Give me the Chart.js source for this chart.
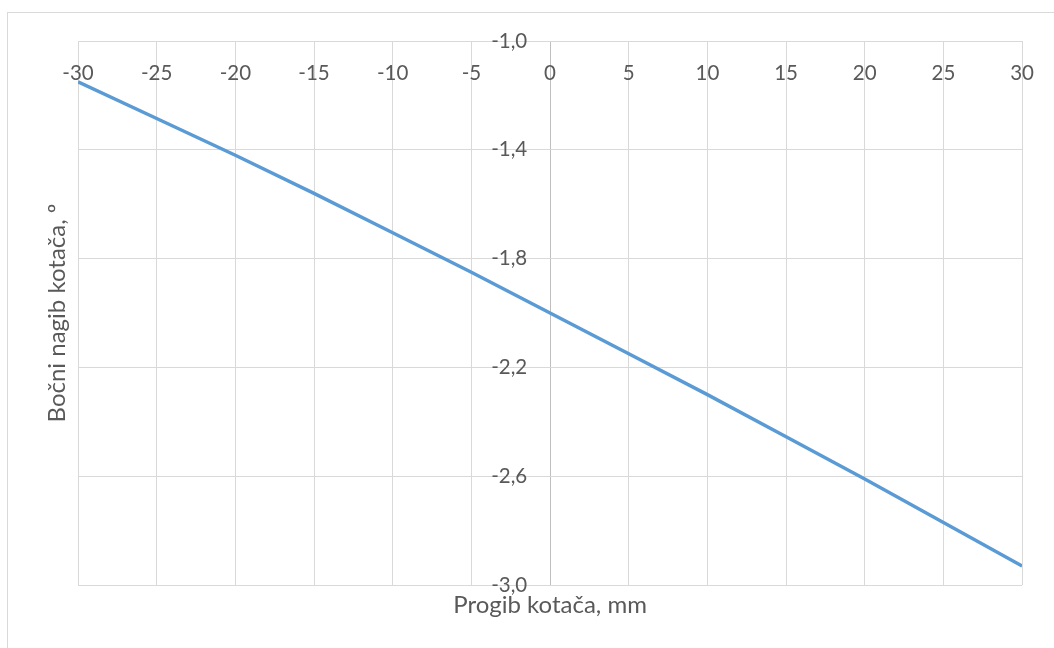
<!DOCTYPE html>
<html>
<head>
<meta charset="utf-8">
<script src="https://cdn.jsdelivr.net/npm/chart.js@4.4.1/dist/chart.umd.min.js"></script>
<style>
    html, body { margin: 0; padding: 0; background: #ffffff; }
</style>
</head>
<body>
<canvas id="camberChart" width="1054" height="648"></canvas>
<script>
// wheel travel (mm) vs camber angle (deg)
const progib = [-30, -25, -20, -15, -10, -5, 0, 5, 10, 15, 20, 25, 30];
const nagib = [-1.15, -1.285, -1.42, -1.56, -1.705, -1.85, -2.00, -2.15, -2.30, -2.455, -2.61, -2.77, -2.93];

const xTitle = 'Progib kotača, mm';
const yTitle = 'Bočni nagib kotača, º';

const textColor = '#595959';
const gridColor = '#d9d9d9';
const axisColor = '#bfbfbf';
const fontFamily = 'Lato, "Open Sans", sans-serif';
const tickFont = { family: fontFamily, size: 20.5 };
const titleFont = { family: fontFamily, size: 24 };

// y labels sit left of the x=0 line with a gap; chart.js ignores ticks.padding
// for value-positioned y axes, so the axis is anchored a little left of 0
const yAxisAt = -1.45;

// light frame round the whole chart, like the Excel chart border
const framePlugin = {
    id: 'frame',
    beforeDraw(chart) {
        const ctx = chart.ctx;
        ctx.save();
        ctx.strokeStyle = gridColor;
        ctx.lineWidth = 1;
        ctx.strokeRect(7.5, 12.5, 1200, 800);
        ctx.restore();
    }
};

const ctx = document.getElementById('camberChart').getContext('2d');

new Chart(ctx, {
    type: 'line',
    data: {
        datasets: [{
            label: yTitle,
            data: progib.map((x, i) => ({ x: x, y: nagib[i] })),
            borderColor: '#5b9bd5',
            borderWidth: 3.5,
            pointRadius: 0,
            tension: 0,
            fill: false
        }]
    },
    options: {
        responsive: false,
        animation: false,
        events: [],
        layout: {
            padding: { top: 41, right: 29, bottom: 26.2, left: 0 }
        },
        plugins: {
            legend: { display: false },
            tooltip: { enabled: false }
        },
        scales: {
            x: {
                type: 'linear',
                position: { y: -1 },
                min: -30,
                max: 30,
                grid: {
                    color: (c) => (c.tick && c.tick.value === 0) ? axisColor : gridColor,
                    drawTicks: false
                },
                border: { color: gridColor },
                ticks: {
                    stepSize: 5,
                    padding: 20,
                    autoSkip: false,
                    maxRotation: 0,
                    color: textColor,
                    font: tickFont,
                    callback: (v) => String(v)
                }
            },
            y: {
                type: 'linear',
                position: { x: yAxisAt },
                min: -3,
                max: -1,
                grid: { color: gridColor, drawTicks: false },
                border: { display: false },
                ticks: {
                    stepSize: 0.4,
                    color: textColor,
                    font: tickFont,
                    callback: (v) => v.toFixed(1).replace('.', ',')
                }
            },
            // title-only axes, they just hold the axis titles outside the plot
            x2: {
                type: 'linear',
                position: 'bottom',
                ticks: { display: false },
                grid: { display: false, drawTicks: false },
                border: { display: false },
                title: {
                    display: true,
                    text: xTitle,
                    color: textColor,
                    font: titleFont,
                    padding: { top: 6, bottom: 2 }
                }
            },
            y2: {
                type: 'linear',
                position: 'left',
                ticks: { display: false },
                grid: { display: false, drawTicks: false },
                border: { display: false },
                title: {
                    display: true,
                    text: yTitle,
                    color: textColor,
                    font: titleFont,
                    padding: { top: 42.6, bottom: 6.6 }
                }
            }
        }
    },
    plugins: [framePlugin]
});
</script>
</body>
</html>
